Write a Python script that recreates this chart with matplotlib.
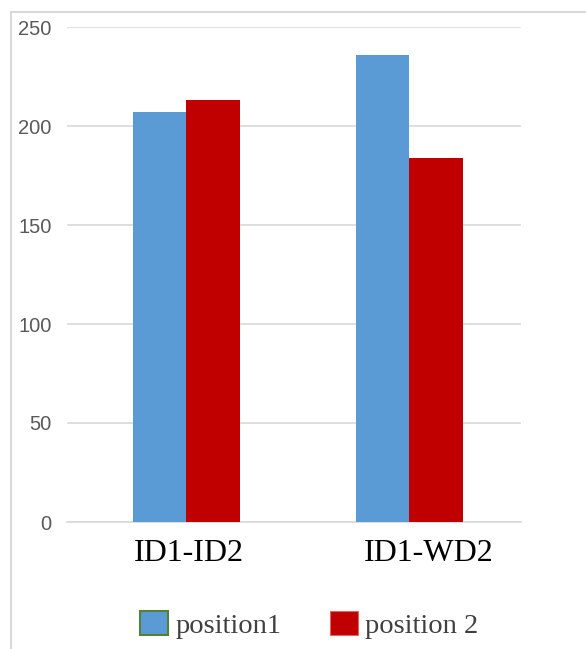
import matplotlib
matplotlib.use('Agg')
import matplotlib.pyplot as plt
import matplotlib.transforms as mtransforms
from matplotlib.patches import Patch, Rectangle

categories = ['ID1-ID2', 'ID1-WD2']
position1 = [207, 236]
position2 = [213, 184]
series_labels = ['position1', 'position 2']
y_ticks = [0, 50, 100, 150, 200, 250]

BLUE = '#5b9bd5'
RED = '#c00000'

W, H = 586, 649
fig = plt.figure(figsize=(W / 100, H / 100), dpi=100)
fig.patch.set_facecolor('white')

# light chart-area border (top and left edges visible)
fig.add_artist(Rectangle((11 / W, -0.1), 1.2, (H - 12) / H + 0.1,
                         transform=fig.transFigure, fill=False,
                         edgecolor='#d9d9d9', linewidth=1.5))

ax = fig.add_axes([67 / W, (H - 522) / H, (521 - 67) / W, (522 - 27) / H])

x = list(range(len(categories)))
bw = 0.24
ax.bar([i - bw / 2 for i in x], position1, width=bw, color=BLUE, zorder=3)
ax.bar([i + bw / 2 for i in x], position2, width=bw, color=RED, zorder=3)

ax.set_xlim(-0.534, 1.502)
ax.set_ylim(0, 250)
ax.set_yticks(y_ticks)
ax.set_xticks(x)
ax.set_xticklabels(categories, fontsize=23, family='Liberation Serif', color='black')
ax.tick_params(axis='x', length=0, pad=12)
ax.tick_params(axis='y', length=0, pad=11, labelsize=14.5, labelcolor='#595959')
for lbl in ax.get_yticklabels():
    lbl.set_family('Liberation Sans')

# nudge the category labels sideways (in pixels)
for lbl, dx in zip(ax.get_xticklabels(), [3, 20]):
    lbl.set_transform(lbl.get_transform() +
                      mtransforms.ScaledTranslation(dx / 100, 0, fig.dpi_scale_trans))

ax.grid(axis='y', color='#d9d9d9', linewidth=1.2, zorder=0)
for side in ['top', 'right', 'left']:
    ax.spines[side].set_visible(False)
ax.spines['bottom'].set_color('#d9d9d9')
ax.spines['bottom'].set_linewidth(1.2)

handles = [Patch(facecolor=BLUE, edgecolor='#538135', linewidth=1.5),
           Patch(facecolor=RED, edgecolor='#e06666', linewidth=0.8)]
fig.legend(handles, series_labels, loc='center', bbox_to_anchor=(309 / W, (H - 625) / H),
           ncol=2, frameon=False, prop={'family': 'Liberation Serif', 'size': 20.5},
           labelcolor='#404040', handlelength=1.0, handleheight=0.9,
           handletextpad=0.25, columnspacing=1.7)

plt.savefig('out.png', dpi=100, facecolor='white')
